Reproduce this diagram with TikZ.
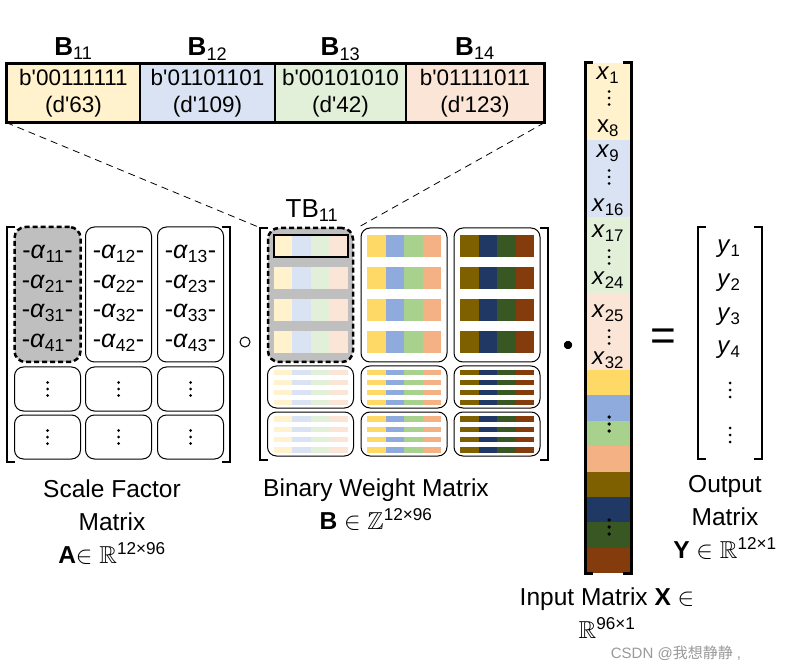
\documentclass[tikz,border=0pt]{standalone}
\usepackage{amssymb}
\usepackage{fontspec}
\usepackage{tikz}
\setmainfont{Liberation Sans}
\newfontfamily\cjk{Noto Sans CJK SC}

\definecolor{paleY}{HTML}{FFF2CC}
\definecolor{paleB}{HTML}{DAE3F3}
\definecolor{paleG}{HTML}{E2F0D9}
\definecolor{paleO}{HTML}{FBE5D6}
\definecolor{midY}{HTML}{FFD966}
\definecolor{midB}{HTML}{8FAADC}
\definecolor{midG}{HTML}{A9D18E}
\definecolor{midO}{HTML}{F4B183}
\definecolor{darkY}{HTML}{7F6000}
\definecolor{darkB}{HTML}{203864}
\definecolor{darkG}{HTML}{385723}
\definecolor{darkO}{HTML}{843C0C}
\definecolor{tbgray}{HTML}{BFBFBF}

\newcommand{\cellfont}{\fontsize{22.5}{27}\selectfont}
\newcommand{\hdfont}{\fontsize{26}{30}\selectfont}
\newcommand{\lblfont}{\fontsize{24.5}{33}\selectfont}
\newcommand{\afont}{\fontsize{25}{28}\selectfont}
\newcommand{\vecfont}{\fontsize{24}{26}\selectfont}
\newcommand{\bq}{\textquotesingle}
% three dots in a column
\newcommand{\vdotsat}[3]{\fill (#1,#2-#3) circle[radius=1.5pt] (#1,#2) circle[radius=1.5pt] (#1,#2+#3) circle[radius=1.5pt];}

\begin{document}
\begin{tikzpicture}[x=1pt,y=-1pt,
    bitcell/.style={draw, line width=1.2pt, minimum height=58, inner sep=0, align=center, font=\cellfont},
    ablock/.style={draw, rounded corners=9pt, line width=1pt, minimum width=66, inner sep=0},
    bblock/.style={draw, rounded corners=9pt, line width=1pt, minimum width=86, inner sep=0},
    dashbox/.style={draw, dash pattern=on 5pt off 3pt, line width=2.5pt, rounded corners=11pt, fill=tbgray},
    brk/.style={line width=2.5pt},
    lbl/.style={align=center, font=\lblfont},
]
    \useasboundingbox (0,0) rectangle (788,671);

    % Bit string on top
    \node[bitcell, minimum width=133, fill=paleY] (b11) at (73.5,93) {b\bq00111111\\(d\bq63)};
    \node[bitcell, minimum width=135, fill=paleB] (b12) at (207.5,93) {b\bq01101101\\(d\bq109)};
    \node[bitcell, minimum width=131, fill=paleG] (b13) at (340.5,93) {b\bq00101010\\(d\bq42)};
    \node[bitcell, minimum width=138, fill=paleO] (b14) at (475,93) {b\bq01111011\\(d\bq123)};
    \draw[line width=2pt] (b11.north west) rectangle (b14.south east);
    \node[font=\hdfont, anchor=base] (lb11) at (73.5,56) {\textbf{B}\textsubscript{11}};
    \node[font=\hdfont, anchor=base] (lb12) at (207.5,56) {\textbf{B}\textsubscript{12}};
    \node[font=\hdfont, anchor=base] (lb13) at (340.5,56) {\textbf{B}\textsubscript{13}};
    \node[font=\hdfont, anchor=base] (lb14) at (475,56) {\textbf{B}\textsubscript{14}};

    % Scale factor matrix
    \node[dashbox, minimum width=66, minimum height=135] (acol1) at (47.5,294.5) {};
    \node[ablock, minimum height=135] (acol2) at (118.5,294.5) {};
    \node[ablock, minimum height=135] (acol3) at (190.5,294.5) {};
    \foreach \c/\cx in {1/47.5, 2/118.5, 3/190.5} {
        \foreach \r/\ry in {1/254, 2/284, 3/313, 4/343}
            \node[font=\afont, inner sep=0] (a\r\c) at (\cx,\ry) {-\textit{α}\textsubscript{\r\c}-};
        \node[ablock, minimum height=44] (adots\c) at (\cx,389) {};
        \node[ablock, minimum height=44] (aend\c) at (\cx,437) {};
        \vdotsat{\cx}{389}{6.5}
        \vdotsat{\cx}{437}{6.5}
    }
    \draw[brk] (15,227) -- (7,227) -- (7,462) -- (15,462);
    \draw[brk] (222,227) -- (230,227) -- (230,462) -- (222,462);
    \node[circle, draw, line width=1pt, minimum size=10, inner sep=0] (hadamard) at (245,342) {};

    % Binary weight matrix
    \node[dashbox, minimum width=85, minimum height=134] (tb11) at (310.5,295) {};
    \node[bblock, minimum height=134] (bcol2) at (404,295) {};
    \node[bblock, minimum height=134] (bcol3) at (497,295) {};
    \foreach \cx/\n in {310.5/1, 404/2, 497/3} {
        \node[bblock, minimum height=42] (bmid\n) at (\cx,387) {};
        \node[bblock, minimum height=44] (bend\n) at (\cx,434) {};
    }
    \foreach \cx/\ca/\cb/\cc/\cd in {310.5/paleY/paleB/paleG/paleO, 404/midY/midB/midG/midO, 497/darkY/darkB/darkG/darkO} {
        \foreach \y in {246,278,310,342}
            \foreach \k/\col in {0/\ca,1/\cb,2/\cc,3/\cd}
                \fill[fill=\col] (\cx-37+18.5*\k,\y-11) rectangle ++(18.5,22);
        \foreach \y in {372.5,382.5,392.5,402.5,419,429.3,439.6,449.9}
            \foreach \k/\col in {0/\ca,1/\cb,2/\cc,3/\cd}
                \fill[fill=\col] (\cx-37+18.5*\k,\y-2.8) rectangle ++(18.5,5.6);
    }
    \draw[line width=2pt] (273.5,235) rectangle (347.5,257);
    \draw[brk] (268,228) -- (260,228) -- (260,460) -- (268,460);
    \draw[brk] (540,228) -- (548,228) -- (548,460) -- (540,460);
    \node[font=\hdfont] (tblbl) at (312,211) {TB\textsubscript{11}};

    % Zoom lines
    \draw[dash pattern=on 7pt off 5pt, line width=0.8pt] (b11.south west) -- ([xshift=-9]tb11.north west);
    \draw[dash pattern=on 7pt off 5pt, line width=0.8pt] (b14.south east) -- ([xshift=5]tb11.north east);

    % Input vector
    \foreach \top/\bot/\col in {63/140/paleY, 140/217/paleB, 217/293/paleG, 293/370/paleO,
        370/395.4/midY, 395.4/420.8/midB, 420.8/446.1/midG, 446.1/471.5/midO,
        471.5/496.9/darkY, 496.9/522.3/darkB, 522.3/547.6/darkG, 547.6/573/darkO}
        \fill[fill=\col] (585,\top) rectangle (631,\bot);
    \draw[line width=3pt] (593,63) -- (585,63) -- (585,573) -- (593,573);
    \draw[line width=3pt] (623,63) -- (631,63) -- (631,573) -- (623,573);
    \node[font=\vecfont, inner sep=0] (x1) at (608,75) {\textit{x}\textsubscript{1}};
    \node[font=\vecfont, inner sep=0] (x8) at (608,128) {x\textsubscript{8}};
    \node[font=\vecfont, inner sep=0] (x9) at (608,153) {\textit{x}\textsubscript{9}};
    \node[font=\vecfont, inner sep=0] (x16) at (608,207) {\textit{x}\textsubscript{16}};
    \node[font=\vecfont, inner sep=0] (x17) at (608,233) {\textit{x}\textsubscript{17}};
    \node[font=\vecfont, inner sep=0] (x24) at (608,280) {\textit{x}\textsubscript{24}};
    \node[font=\vecfont, inner sep=0] (x25) at (608,313) {\textit{x}\textsubscript{25}};
    \node[font=\vecfont, inner sep=0] (x32) at (608,360) {\textit{x}\textsubscript{32}};
    \foreach \y in {98, 177, 257, 337}
        \vdotsat{609}{\y}{6.5}
    \vdotsat{609}{424}{7}
    \vdotsat{609}{527}{7}
    \node[circle, fill, minimum size=8, inner sep=0] (dotop) at (568,345) {};
    \node[font=\fontsize{44}{44}\selectfont] (eq) at (663,340) {=};

    % Output vector
    \draw[brk] (706,227) -- (698,227) -- (698,459) -- (706,459);
    \draw[brk] (754,227) -- (762,227) -- (762,459) -- (754,459);
    \foreach \r/\ry in {1/249, 2/283, 3/317, 4/350}
        \node[font=\vecfont, inner sep=0] (y\r) at (729,\ry) {\textit{y}\textsubscript{\r}};
    \vdotsat{730}{390}{7}
    \vdotsat{730}{435}{7}

    % Captions
    \node[lbl] (capA) at (112,522) {Scale Factor\\Matrix\\\textbf{A}$\in$ $\mathbb{R}$\textsuperscript{12×96}};
    \node[lbl] (capB) at (376,505) {Binary Weight Matrix\\\textbf{B} $\in$ $\mathbb{Z}$\textsuperscript{12×96}};
    \node[lbl] (capY) at (725,517) {Output\\Matrix\\\textbf{Y} $\in$ $\mathbb{R}$\textsuperscript{12×1}};
    \node[lbl] (capX) at (607,613) {Input Matrix \textbf{X} $\in$\\$\mathbb{R}$\textsuperscript{96×1}};
    \node[font=\fontsize{15}{15}\selectfont, text=black!40] (mark) at (676,653) {CSDN @{\cjk 我想静静} ,};
\end{tikzpicture}
\end{document}
